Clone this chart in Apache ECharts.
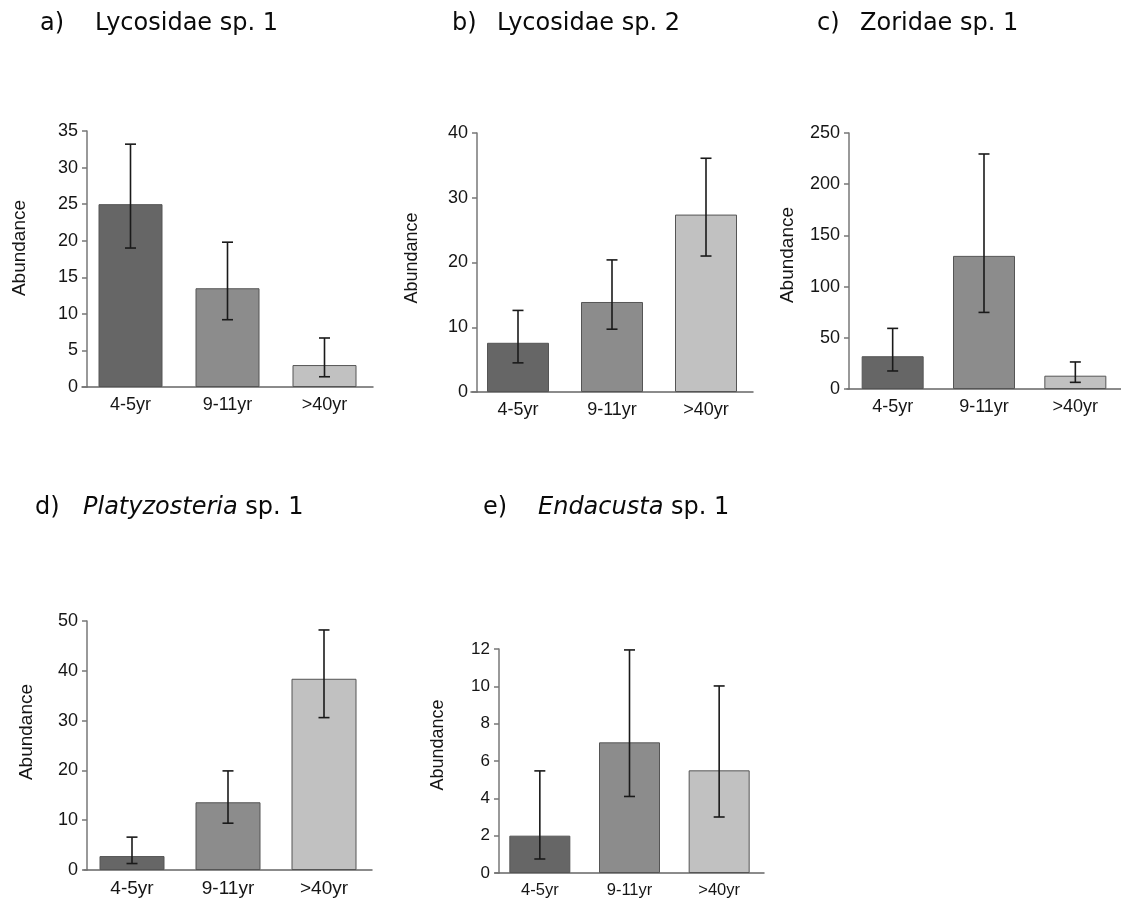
<!DOCTYPE html>
<html>
<head>
<meta charset="utf-8">
<script src="https://cdn.jsdelivr.net/npm/echarts@6/dist/echarts.min.js"></script>
<style>
html,body{margin:0;padding:0;background:#fff;}
#chart{width:1121px;height:904px;}
</style>
</head>
<body>
<div id="chart"></div>
<script>
// ---- data ----
const categories = ['4-5yr', '9-11yr', '>40yr'];

const aMean = [25.0, 13.5, 3.0];
const aLow  = [19.0, 9.2, 1.4];
const aHigh = [33.2, 19.8, 6.7];

const bMean = [7.6, 13.9, 27.4];
const bLow  = [4.5, 9.7, 21.0];
const bHigh = [12.6, 20.4, 36.1];

const cMean = [32, 130, 13];
const cLow  = [17.6, 74.8, 6.5];
const cHigh = [59.2, 229.5, 26.4];

const dMean = [2.8, 13.6, 38.4];
const dLow  = [1.3, 9.4, 30.6];
const dHigh = [6.6, 19.9, 48.2];

const eMean = [2.0, 7.0, 5.5];
const eLow  = [0.75, 4.1, 3.0];
const eHigh = [5.47, 11.95, 10.02];

const panelLetters = ['a)', 'b)', 'c)', 'd)', 'e)'];
const panelGenus   = ['Lycosidae', 'Lycosidae', 'Zoridae', 'Platyzosteria', 'Endacusta'];
const panelSpecies = ['sp. 1', 'sp. 2', 'sp. 1', 'sp. 1', 'sp. 1'];
const genusItalic  = [false, false, false, true, true];
const yMax      = [35, 40, 250, 50, 12];
const yInterval = [5, 10, 50, 10, 2];
const yName = 'Abundance';

const means = [aMean, bMean, cMean, dMean, eMean];
const lows  = [aLow, bLow, cLow, dLow, eLow];
const highs = [aHigh, bHigh, cHigh, dHigh, eHigh];

// ---- layout / style (not data) ----
const barColors = ['#666666', '#8c8c8c', '#c1c1c1'];
const grids = [
  {left: 82,  top: 131, width: 291, height: 256, off: -5, bw: 64, tick: 18, xl: 18, nameX: 20,  nameY: 248, nameSize: 19},
  {left: 471, top: 133, width: 282, height: 259, off: -6, bw: 62, tick: 18, xl: 18, nameX: 412, nameY: 258, nameSize: 18},
  {left: 847, top: 133, width: 274, height: 256, off: -2, bw: 62, tick: 18, xl: 18, nameX: 788, nameY: 255, nameSize: 19},
  {left: 84,  top: 621, width: 288, height: 249, off: -3, bw: 65, tick: 18, xl: 19, nameX: 27,  nameY: 732, nameSize: 19},
  {left: 495, top: 649, width: 269, height: 224, off: -4, bw: 61, tick: 17, xl: 16.5, nameX: 438, nameY: 745, nameSize: 18}
];
const titlePos = [
  {lx: 40,  nx: 95,  top: 12},
  {lx: 452, nx: 497, top: 12},
  {lx: 817, nx: 860, top: 12},
  {lx: 35,  nx: 83,  top: 496},
  {lx: 483, nx: 538, top: 496}
];

const FONT = '"Liberation Sans", Arial, sans-serif';
const TFONT = '"DejaVu Sans", sans-serif';
const TEXTC = '#151515';
const TSIZE = 24;

const option = {
  backgroundColor: '#ffffff',
  animation: false,
  title: [],
  grid: [],
  xAxis: [],
  yAxis: [],
  series: [],
  graphic: []
};

for (let p = 0; p < 5; p++) {
  const g = grids[p];
  option.grid.push({left: g.left, top: g.top, width: g.width, height: g.height, containLabel: false});
  option.xAxis.push({
    type: 'category', gridIndex: p, data: categories,
    axisLine: {show: true, lineStyle: {color: '#666', width: 1.5}},
    axisTick: {show: false},
    axisLabel: {color: TEXTC, fontSize: g.xl, fontFamily: FONT, margin: 9},
    splitLine: {show: false}
  });
  option.yAxis.push({
    type: 'value', gridIndex: p, min: 0, max: yMax[p], interval: yInterval[p],
    offset: g.off,
    axisLine: {show: true, lineStyle: {color: '#777', width: 1.5}},
    axisTick: {show: true, length: 5, lineStyle: {color: '#777', width: 1.5}},
    axisLabel: {color: TEXTC, fontSize: g.tick, fontFamily: FONT, margin: 9},
    splitLine: {show: false}
  });
  option.series.push({
    type: 'bar', xAxisIndex: p, yAxisIndex: p, barWidth: g.bw,
    data: means[p].map((v, i) => ({value: v, itemStyle: {color: barColors[i]}})),
    itemStyle: {borderColor: '#555', borderWidth: 1}
  });
  option.series.push({
    type: 'custom', xAxisIndex: p, yAxisIndex: p, z: 5,
    data: categories.map((c, i) => [i, lows[p][i], highs[p][i]]),
    renderItem: function (params, api) {
      const x = api.value(0);
      const lo = api.coord([x, api.value(1)]);
      const hi = api.coord([x, api.value(2)]);
      const w = 5.5;
      const st = {stroke: '#1a1a1a', lineWidth: 1.6};
      return {
        type: 'group',
        children: [
          {type: 'line', shape: {x1: lo[0], y1: lo[1], x2: hi[0], y2: hi[1]}, style: st},
          {type: 'line', shape: {x1: hi[0] - w, y1: hi[1], x2: hi[0] + w, y2: hi[1]}, style: st},
          {type: 'line', shape: {x1: lo[0] - w, y1: lo[1], x2: lo[0] + w, y2: lo[1]}, style: st}
        ]
      };
    }
  });
  option.graphic.push({
    type: 'text', x: g.nameX, y: g.nameY, rotation: Math.PI / 2,
    style: {text: yName, fontSize: g.nameSize, fontFamily: FONT, fill: TEXTC, align: 'center', verticalAlign: 'middle'}
  });
  const tp = titlePos[p];
  option.title.push({
    text: panelLetters[p], left: tp.lx, top: tp.top, padding: 0,
    textStyle: {fontFamily: TFONT, fontSize: TSIZE, fontWeight: 'normal', color: '#0a0a0a'}
  });
  option.title.push({
    text: '{g|' + panelGenus[p] + '} {s|' + panelSpecies[p] + '}', left: tp.nx, top: tp.top, padding: 0,
    textStyle: {
      fontWeight: 'normal', fontFamily: TFONT, fontSize: TSIZE, color: '#0a0a0a',
      rich: {
        g: {fontFamily: TFONT, fontSize: TSIZE, color: '#0a0a0a', fontWeight: 'normal', fontStyle: genusItalic[p] ? 'italic' : 'normal'},
        s: {fontFamily: TFONT, fontSize: TSIZE, color: '#0a0a0a', fontWeight: 'normal'}
      }
    }
  });
}

const chart = echarts.init(document.getElementById('chart'), null, {renderer: 'canvas'});
chart.setOption(option);
</script>
</body>
</html>
